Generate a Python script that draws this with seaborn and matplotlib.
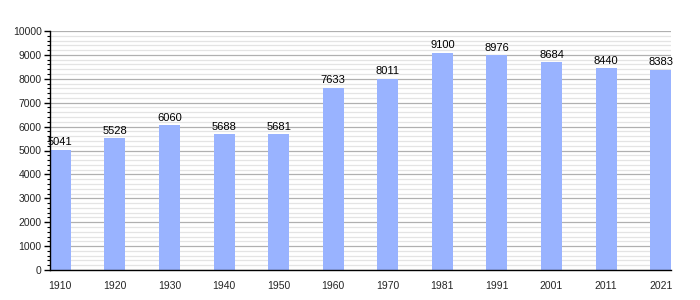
import matplotlib
matplotlib.use("Agg")
import matplotlib.pyplot as plt
import seaborn as sns
import pandas as pd
from matplotlib.ticker import MultipleLocator

years = ["1910", "1920", "1930", "1940", "1950", "1960", "1970", "1981", "1991", "2001", "2011", "2021"]
population = [5041, 5528, 6060, 5688, 5681, 7633, 8011, 9100, 8976, 8684, 8440, 8383]

sns.set_theme(style="white")
plt.rcParams['font.family'] = ['Liberation Sans', 'DejaVu Sans']

df = pd.DataFrame({"year": years, "pop": population})

fig = plt.figure(figsize=(7, 3), dpi=100)
ax = fig.add_axes([50/700, 0.1, 621/700, 239/300])
sns.barplot(data=df, x="year", y="pop", color="#99b3ff", saturation=1, width=0.385,
            linewidth=0, edgecolor="none", ax=ax)

ax.set_xlim(-0.19, len(years) - 1 + 0.19)
ax.set_ylim(0, 10000)
ax.yaxis.set_major_locator(MultipleLocator(1000))
ax.yaxis.set_minor_locator(MultipleLocator(200))
ax.grid(which="major", axis="y", color="#b0b0b0", linewidth=0.9)
ax.grid(which="minor", axis="y", color="#e4e4e4", linewidth=0.9)
ax.set_axisbelow(True)

for s in ["top", "right"]:
    ax.spines[s].set_visible(False)
for s in ["left", "bottom"]:
    ax.spines[s].set_visible(True)
    ax.spines[s].set_color("black")
    ax.spines[s].set_linewidth(1)

ax.tick_params(axis="y", which="major", left=True, length=4, width=1, color="black", labelsize=7.5, pad=2)
ax.tick_params(axis="y", which="minor", left=True, length=2, width=0.8, color="black")
ax.tick_params(axis="x", bottom=False, labelsize=7.5, pad=2)
ax.set_xlabel("")
ax.set_ylabel("")

for i, v in enumerate(population):
    ax.text(i, v + 90, str(v), ha="center", va="bottom", fontsize=8, color="black")

fig.savefig("out.png", dpi=100)
